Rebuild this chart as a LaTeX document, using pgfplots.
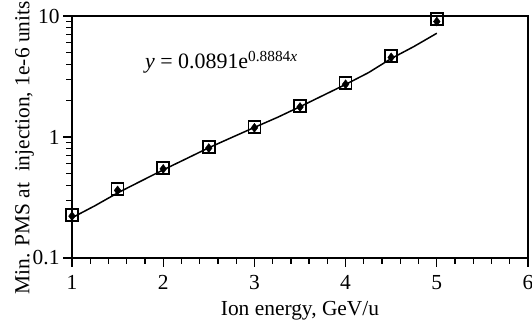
\documentclass[border=0pt]{standalone}
\usepackage{fontspec}
\setmainfont{Liberation Serif}
\usepackage{pgfplots}
\pgfplotsset{compat=1.18}
\begin{document}
\begin{tikzpicture}
\begin{axis}[
  scale only axis, width=456bp, height=242bp,
  xmin=1, xmax=6, ymin=0.1, ymax=10, ymode=log,
  xtick={1,2,3,4,5,6}, minor x tick num=4,
  ytick={0.1,1,10}, yticklabels={0.1,1,10},
  minor ytick={0.2,0.3,0.4,0.5,0.6,0.7,0.8,0.9,2,3,4,5,6,7,8,9},
  xtick pos=left, ytick pos=left, tick align=outside,
  major tick length=9bp, minor tick length=6bp,
  major tick style={black, line width=1.3bp},
  minor tick style={black, line width=1.3bp},
  axis line style={line width=1.5bp},
  font=\fontsize{21.5}{24}\selectfont,
  /pgf/number format/assume math mode=true,
  xticklabel style={yshift=-5bp},
  xlabel={Ion energy, GeV/u},
  xlabel style={yshift=-5bp},
  ylabel={Min. PMS at\ \ injection, 1e-6 units},
  ylabel style={at={(ticklabel cs:0.455,-8bp)}},
  clip=false,
]
\addplot[black, line width=1.5bp, no marks] coordinates {
 (1,0.215) (1.25,0.27) (1.5,0.345) (1.75,0.43) (2,0.535) (2.25,0.66) (2.5,0.815) (2.75,0.99) (3,1.2) (3.25,1.45) (3.5,1.78) (3.75,2.2) (4,2.72) (4.25,3.4) (4.5,4.45) (4.75,5.6) (5,7.2)};
\addplot[only marks, mark=square, mark size=6bp, mark options={black, line width=1.5bp}] coordinates {
 (1,0.226) (1.5,0.372) (2,0.554) (2.5,0.826) (3,1.21) (3.5,1.80) (4,2.79) (4.5,4.67) (5,9.45)};
\addplot[only marks, mark=diamond*, mark size=4.5bp, mark options={black, fill=black}] coordinates {
 (1,0.222) (1.5,0.362) (2,0.545) (2.5,0.81) (3,1.19) (3.5,1.77) (4,2.73) (4.5,4.55) (5,9.0)};
\node[anchor=base west, inner sep=0pt, font=\fontsize{22}{24}\selectfont] at (axis cs:1.80,3.65) {\textit{y}\ =\ 0.0891e\textsuperscript{0.8884\textit{x}}};
\coordinate (bl) at (rel axis cs:0,0);
\coordinate (tr) at (rel axis cs:1,1);
\end{axis}
\pgfresetboundingbox
\path[use as bounding box] ([shift={(-72bp,-63bp)}]bl) rectangle ([shift={(4bp,16bp)}]tr);
\end{tikzpicture}
\end{document}
